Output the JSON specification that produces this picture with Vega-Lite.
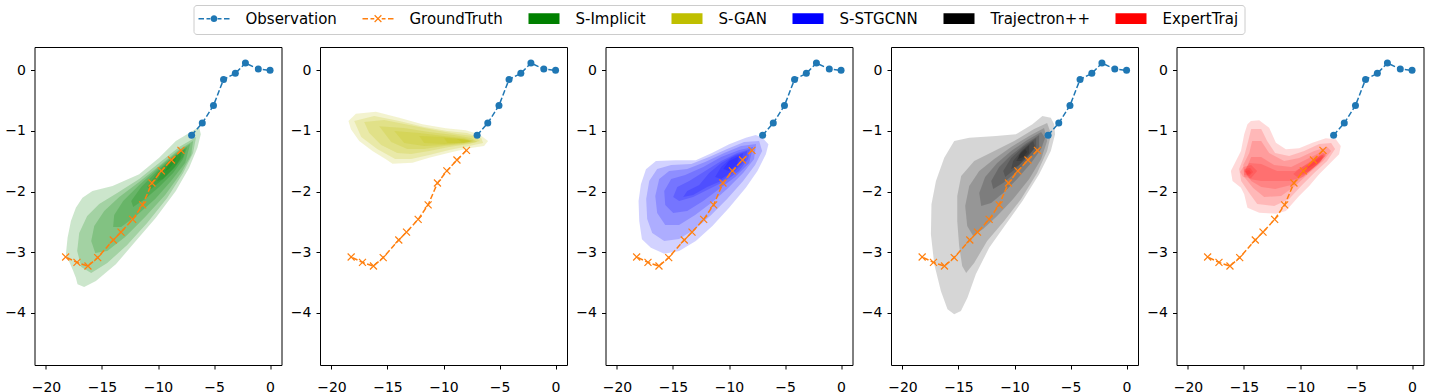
{
"$schema": "https://vega.github.io/schema/vega-lite/v6.json",
"padding": {"left": 3.5, "top": 4, "right": 0, "bottom": 0},
"data": {"values": [
{"p":1,"s":"S-Implicit","k":1,"x":-6.18,"y":-1.056},{"p":1,"s":"S-Implicit","k":1,"x":-6.33,"y":-0.936},{"p":1,"s":"S-Implicit","k":1,"x":-8.41,"y":-1.167},{"p":1,"s":"S-Implicit","k":1,"x":-9.90,"y":-1.442},{"p":1,"s":"S-Implicit","k":1,"x":-11.68,"y":-1.716},{"p":1,"s":"S-Implicit","k":1,"x":-14.06,"y":-1.909},{"p":1,"s":"S-Implicit","k":1,"x":-15.85,"y":-1.993},{"p":1,"s":"S-Implicit","k":1,"x":-16.74,"y":-2.102},{"p":1,"s":"S-Implicit","k":1,"x":-17.33,"y":-2.267},{"p":1,"s":"S-Implicit","k":1,"x":-17.77,"y":-2.487},{"p":1,"s":"S-Implicit","k":1,"x":-18.07,"y":-2.762},{"p":1,"s":"S-Implicit","k":1,"x":-18.22,"y":-3.036},{"p":1,"s":"S-Implicit","k":1,"x":-17.63,"y":-3.284},{"p":1,"s":"S-Implicit","k":1,"x":-17.33,"y":-3.422},{"p":1,"s":"S-Implicit","k":1,"x":-17.18,"y":-3.531},{"p":1,"s":"S-Implicit","k":1,"x":-16.59,"y":-3.576},{"p":1,"s":"S-Implicit","k":1,"x":-15.54,"y":-3.477},{"p":1,"s":"S-Implicit","k":1,"x":-13.76,"y":-3.201},{"p":1,"s":"S-Implicit","k":1,"x":-11.98,"y":-2.817},{"p":1,"s":"S-Implicit","k":1,"x":-10.19,"y":-2.432},{"p":1,"s":"S-Implicit","k":1,"x":-8.41,"y":-1.992},{"p":1,"s":"S-Implicit","k":1,"x":-7.22,"y":-1.607},{"p":1,"s":"S-Implicit","k":1,"x":-6.48,"y":-1.277},
{"p":1,"s":"S-Implicit","k":2,"x":-6.60,"y":-1.101},{"p":1,"s":"S-Implicit","k":2,"x":-8.11,"y":-1.266},{"p":1,"s":"S-Implicit","k":2,"x":-9.90,"y":-1.530},{"p":1,"s":"S-Implicit","k":2,"x":-11.68,"y":-1.794},{"p":1,"s":"S-Implicit","k":2,"x":-13.64,"y":-2.025},{"p":1,"s":"S-Implicit","k":2,"x":-15.25,"y":-2.206},{"p":1,"s":"S-Implicit","k":2,"x":-16.32,"y":-2.404},{"p":1,"s":"S-Implicit","k":2,"x":-17.03,"y":-2.685},{"p":1,"s":"S-Implicit","k":2,"x":-17.21,"y":-2.982},{"p":1,"s":"S-Implicit","k":2,"x":-16.85,"y":-3.246},{"p":1,"s":"S-Implicit","k":2,"x":-15.96,"y":-3.345},{"p":1,"s":"S-Implicit","k":2,"x":-14.53,"y":-3.180},{"p":1,"s":"S-Implicit","k":2,"x":-12.75,"y":-2.883},{"p":1,"s":"S-Implicit","k":2,"x":-10.97,"y":-2.520},{"p":1,"s":"S-Implicit","k":2,"x":-9.18,"y":-2.107},{"p":1,"s":"S-Implicit","k":2,"x":-7.76,"y":-1.695},{"p":1,"s":"S-Implicit","k":2,"x":-6.87,"y":-1.365},
{"p":1,"s":"S-Implicit","k":3,"x":-6.87,"y":-1.167},{"p":1,"s":"S-Implicit","k":3,"x":-8.29,"y":-1.332},{"p":1,"s":"S-Implicit","k":3,"x":-9.90,"y":-1.579},{"p":1,"s":"S-Implicit","k":3,"x":-11.68,"y":-1.843},{"p":1,"s":"S-Implicit","k":3,"x":-13.46,"y":-2.091},{"p":1,"s":"S-Implicit","k":3,"x":-14.80,"y":-2.322},{"p":1,"s":"S-Implicit","k":3,"x":-15.69,"y":-2.569},{"p":1,"s":"S-Implicit","k":3,"x":-15.96,"y":-2.817},{"p":1,"s":"S-Implicit","k":3,"x":-15.60,"y":-3.015},{"p":1,"s":"S-Implicit","k":3,"x":-14.53,"y":-2.982},{"p":1,"s":"S-Implicit","k":3,"x":-12.93,"y":-2.751},{"p":1,"s":"S-Implicit","k":3,"x":-11.15,"y":-2.421},{"p":1,"s":"S-Implicit","k":3,"x":-9.36,"y":-2.058},{"p":1,"s":"S-Implicit","k":3,"x":-7.94,"y":-1.695},{"p":1,"s":"S-Implicit","k":3,"x":-7.04,"y":-1.398},
{"p":1,"s":"S-Implicit","k":4,"x":-7.13,"y":-1.216},{"p":1,"s":"S-Implicit","k":4,"x":-8.47,"y":-1.381},{"p":1,"s":"S-Implicit","k":4,"x":-10.08,"y":-1.629},{"p":1,"s":"S-Implicit","k":4,"x":-11.68,"y":-1.893},{"p":1,"s":"S-Implicit","k":4,"x":-13.11,"y":-2.157},{"p":1,"s":"S-Implicit","k":4,"x":-13.91,"y":-2.388},{"p":1,"s":"S-Implicit","k":4,"x":-14.00,"y":-2.586},{"p":1,"s":"S-Implicit","k":4,"x":-13.29,"y":-2.586},{"p":1,"s":"S-Implicit","k":4,"x":-11.86,"y":-2.388},{"p":1,"s":"S-Implicit","k":4,"x":-10.25,"y":-2.124},{"p":1,"s":"S-Implicit","k":4,"x":-8.83,"y":-1.827},{"p":1,"s":"S-Implicit","k":4,"x":-7.58,"y":-1.530},
{"p":1,"s":"S-Implicit","k":5,"x":-7.40,"y":-1.266},{"p":1,"s":"S-Implicit","k":5,"x":-8.65,"y":-1.431},{"p":1,"s":"S-Implicit","k":5,"x":-10.08,"y":-1.662},{"p":1,"s":"S-Implicit","k":5,"x":-11.50,"y":-1.926},{"p":1,"s":"S-Implicit","k":5,"x":-12.39,"y":-2.157},{"p":1,"s":"S-Implicit","k":5,"x":-12.22,"y":-2.256},{"p":1,"s":"S-Implicit","k":5,"x":-11.15,"y":-2.124},{"p":1,"s":"S-Implicit","k":5,"x":-9.90,"y":-1.926},{"p":1,"s":"S-Implicit","k":5,"x":-8.65,"y":-1.695},{"p":1,"s":"S-Implicit","k":5,"x":-7.76,"y":-1.464},
{"p":1,"s":"S-Implicit","k":6,"x":-7.58,"y":-1.299},{"p":1,"s":"S-Implicit","k":6,"x":-8.83,"y":-1.464},{"p":1,"s":"S-Implicit","k":6,"x":-10.08,"y":-1.695},{"p":1,"s":"S-Implicit","k":6,"x":-10.97,"y":-1.926},{"p":1,"s":"S-Implicit","k":6,"x":-10.61,"y":-1.959},{"p":1,"s":"S-Implicit","k":6,"x":-9.54,"y":-1.794},{"p":1,"s":"S-Implicit","k":6,"x":-8.47,"y":-1.596},{"p":1,"s":"S-Implicit","k":6,"x":-7.76,"y":-1.431},
{"p":1,"s":"S-Implicit","k":7,"x":-7.85,"y":-1.332},{"p":1,"s":"S-Implicit","k":7,"x":-8.83,"y":-1.497},{"p":1,"s":"S-Implicit","k":7,"x":-9.72,"y":-1.695},{"p":1,"s":"S-Implicit","k":7,"x":-10.08,"y":-1.827},{"p":1,"s":"S-Implicit","k":7,"x":-9.54,"y":-1.794},{"p":1,"s":"S-Implicit","k":7,"x":-8.65,"y":-1.629},{"p":1,"s":"S-Implicit","k":7,"x":-8.02,"y":-1.464},
{"p":1,"s":"S-Implicit","k":8,"x":-8.29,"y":-1.398},{"p":1,"s":"S-Implicit","k":8,"x":-9.01,"y":-1.530},{"p":1,"s":"S-Implicit","k":8,"x":-9.36,"y":-1.662},{"p":1,"s":"S-Implicit","k":8,"x":-9.01,"y":-1.629},{"p":1,"s":"S-Implicit","k":8,"x":-8.47,"y":-1.497},
{"p":2,"s":"S-GAN","k":1,"x":-18.48,"y":-0.837},{"p":2,"s":"S-GAN","k":1,"x":-17.82,"y":-0.716},{"p":2,"s":"S-GAN","k":1,"x":-16.03,"y":-0.683},{"p":2,"s":"S-GAN","k":1,"x":-13.95,"y":-0.782},{"p":2,"s":"S-GAN","k":1,"x":-11.88,"y":-0.891},{"p":2,"s":"S-GAN","k":1,"x":-9.79,"y":-0.957},{"p":2,"s":"S-GAN","k":1,"x":-8.01,"y":-0.990},{"p":2,"s":"S-GAN","k":1,"x":-6.82,"y":-1.056},{"p":2,"s":"S-GAN","k":1,"x":-6.02,"y":-1.167},{"p":2,"s":"S-GAN","k":1,"x":-6.38,"y":-1.249},{"p":2,"s":"S-GAN","k":1,"x":-7.71,"y":-1.287},{"p":2,"s":"S-GAN","k":1,"x":-9.50,"y":-1.360},{"p":2,"s":"S-GAN","k":1,"x":-11.28,"y":-1.442},{"p":2,"s":"S-GAN","k":1,"x":-12.77,"y":-1.525},{"p":2,"s":"S-GAN","k":1,"x":-14.55,"y":-1.541},{"p":2,"s":"S-GAN","k":1,"x":-15.14,"y":-1.469},{"p":2,"s":"S-GAN","k":1,"x":-16.34,"y":-1.332},{"p":2,"s":"S-GAN","k":1,"x":-17.52,"y":-1.167},{"p":2,"s":"S-GAN","k":1,"x":-18.26,"y":-0.974},
{"p":2,"s":"S-GAN","k":2,"x":-17.97,"y":-0.837},{"p":2,"s":"S-GAN","k":2,"x":-16.18,"y":-0.755},{"p":2,"s":"S-GAN","k":2,"x":-13.95,"y":-0.837},{"p":2,"s":"S-GAN","k":2,"x":-11.73,"y":-0.936},{"p":2,"s":"S-GAN","k":2,"x":-9.67,"y":-1.002},{"p":2,"s":"S-GAN","k":2,"x":-7.89,"y":-1.035},{"p":2,"s":"S-GAN","k":2,"x":-6.64,"y":-1.117},{"p":2,"s":"S-GAN","k":2,"x":-6.46,"y":-1.200},{"p":2,"s":"S-GAN","k":2,"x":-7.71,"y":-1.249},{"p":2,"s":"S-GAN","k":2,"x":-9.50,"y":-1.315},{"p":2,"s":"S-GAN","k":2,"x":-11.28,"y":-1.398},{"p":2,"s":"S-GAN","k":2,"x":-12.88,"y":-1.464},{"p":2,"s":"S-GAN","k":2,"x":-14.31,"y":-1.464},{"p":2,"s":"S-GAN","k":2,"x":-15.92,"y":-1.299},{"p":2,"s":"S-GAN","k":2,"x":-17.34,"y":-1.101},
{"p":2,"s":"S-GAN","k":3,"x":-17.08,"y":-0.853},{"p":2,"s":"S-GAN","k":3,"x":-15.29,"y":-0.820},{"p":2,"s":"S-GAN","k":3,"x":-13.06,"y":-0.903},{"p":2,"s":"S-GAN","k":3,"x":-10.83,"y":-0.985},{"p":2,"s":"S-GAN","k":3,"x":-8.78,"y":-1.051},{"p":2,"s":"S-GAN","k":3,"x":-7.36,"y":-1.084},{"p":2,"s":"S-GAN","k":3,"x":-6.73,"y":-1.167},{"p":2,"s":"S-GAN","k":3,"x":-7.71,"y":-1.216},{"p":2,"s":"S-GAN","k":3,"x":-9.50,"y":-1.266},{"p":2,"s":"S-GAN","k":3,"x":-11.28,"y":-1.332},{"p":2,"s":"S-GAN","k":3,"x":-12.88,"y":-1.381},{"p":2,"s":"S-GAN","k":3,"x":-14.13,"y":-1.365},{"p":2,"s":"S-GAN","k":3,"x":-15.56,"y":-1.233},{"p":2,"s":"S-GAN","k":3,"x":-16.63,"y":-1.035},
{"p":2,"s":"S-GAN","k":4,"x":-15.74,"y":-0.921},{"p":2,"s":"S-GAN","k":4,"x":-13.51,"y":-0.952},{"p":2,"s":"S-GAN","k":4,"x":-11.28,"y":-1.018},{"p":2,"s":"S-GAN","k":4,"x":-9.05,"y":-1.068},{"p":2,"s":"S-GAN","k":4,"x":-7.53,"y":-1.117},{"p":2,"s":"S-GAN","k":4,"x":-7.00,"y":-1.183},{"p":2,"s":"S-GAN","k":4,"x":-8.16,"y":-1.216},{"p":2,"s":"S-GAN","k":4,"x":-9.94,"y":-1.249},{"p":2,"s":"S-GAN","k":4,"x":-11.73,"y":-1.299},{"p":2,"s":"S-GAN","k":4,"x":-13.24,"y":-1.299},{"p":2,"s":"S-GAN","k":4,"x":-14.67,"y":-1.183},
{"p":2,"s":"S-GAN","k":5,"x":-14.40,"y":-1.002},{"p":2,"s":"S-GAN","k":5,"x":-12.17,"y":-1.035},{"p":2,"s":"S-GAN","k":5,"x":-9.94,"y":-1.084},{"p":2,"s":"S-GAN","k":5,"x":-8.16,"y":-1.117},{"p":2,"s":"S-GAN","k":5,"x":-7.27,"y":-1.167},{"p":2,"s":"S-GAN","k":5,"x":-8.16,"y":-1.200},{"p":2,"s":"S-GAN","k":5,"x":-9.94,"y":-1.233},{"p":2,"s":"S-GAN","k":5,"x":-11.73,"y":-1.249},{"p":2,"s":"S-GAN","k":5,"x":-13.51,"y":-1.200},
{"p":2,"s":"S-GAN","k":6,"x":-12.17,"y":-1.084},{"p":2,"s":"S-GAN","k":6,"x":-9.94,"y":-1.101},{"p":2,"s":"S-GAN","k":6,"x":-8.16,"y":-1.134},{"p":2,"s":"S-GAN","k":6,"x":-7.36,"y":-1.167},{"p":2,"s":"S-GAN","k":6,"x":-8.16,"y":-1.200},{"p":2,"s":"S-GAN","k":6,"x":-9.94,"y":-1.216},{"p":2,"s":"S-GAN","k":6,"x":-11.73,"y":-1.200},
{"p":2,"s":"S-GAN","k":7,"x":-9.94,"y":-1.117},{"p":2,"s":"S-GAN","k":7,"x":-8.43,"y":-1.134},{"p":2,"s":"S-GAN","k":7,"x":-7.53,"y":-1.167},{"p":2,"s":"S-GAN","k":7,"x":-8.43,"y":-1.200},{"p":2,"s":"S-GAN","k":7,"x":-9.67,"y":-1.200},
{"p":2,"s":"S-GAN","k":8,"x":-8.78,"y":-1.134},{"p":2,"s":"S-GAN","k":8,"x":-7.89,"y":-1.150},{"p":2,"s":"S-GAN","k":8,"x":-7.53,"y":-1.183},{"p":2,"s":"S-GAN","k":8,"x":-8.25,"y":-1.200},
{"p":3,"s":"S-STGCNN","k":1,"x":-7.02,"y":-1.112},{"p":3,"s":"S-STGCNN","k":1,"x":-7.61,"y":-1.068},{"p":3,"s":"S-STGCNN","k":1,"x":-8.50,"y":-1.112},{"p":3,"s":"S-STGCNN","k":1,"x":-9.99,"y":-1.221},{"p":3,"s":"S-STGCNN","k":1,"x":-11.48,"y":-1.360},{"p":3,"s":"S-STGCNN","k":1,"x":-12.96,"y":-1.485},{"p":3,"s":"S-STGCNN","k":1,"x":-14.74,"y":-1.485},{"p":3,"s":"S-STGCNN","k":1,"x":-16.52,"y":-1.497},{"p":3,"s":"S-STGCNN","k":1,"x":-17.41,"y":-1.634},{"p":3,"s":"S-STGCNN","k":1,"x":-17.86,"y":-1.881},{"p":3,"s":"S-STGCNN","k":1,"x":-18.07,"y":-2.157},{"p":3,"s":"S-STGCNN","k":1,"x":-18.01,"y":-2.487},{"p":3,"s":"S-STGCNN","k":1,"x":-17.77,"y":-2.789},{"p":3,"s":"S-STGCNN","k":1,"x":-16.97,"y":-2.927},{"p":3,"s":"S-STGCNN","k":1,"x":-15.78,"y":-3.026},{"p":3,"s":"S-STGCNN","k":1,"x":-14.45,"y":-2.982},{"p":3,"s":"S-STGCNN","k":1,"x":-12.96,"y":-2.817},{"p":3,"s":"S-STGCNN","k":1,"x":-11.48,"y":-2.569},{"p":3,"s":"S-STGCNN","k":1,"x":-9.99,"y":-2.267},{"p":3,"s":"S-STGCNN","k":1,"x":-8.50,"y":-1.937},{"p":3,"s":"S-STGCNN","k":1,"x":-7.46,"y":-1.662},{"p":3,"s":"S-STGCNN","k":1,"x":-6.71,"y":-1.386},{"p":3,"s":"S-STGCNN","k":1,"x":-6.48,"y":-1.221},
{"p":3,"s":"S-STGCNN","k":2,"x":-7.31,"y":-1.167},{"p":3,"s":"S-STGCNN","k":2,"x":-8.65,"y":-1.183},{"p":3,"s":"S-STGCNN","k":2,"x":-10.17,"y":-1.299},{"p":3,"s":"S-STGCNN","k":2,"x":-11.77,"y":-1.431},{"p":3,"s":"S-STGCNN","k":2,"x":-13.37,"y":-1.546},{"p":3,"s":"S-STGCNN","k":2,"x":-15.16,"y":-1.563},{"p":3,"s":"S-STGCNN","k":2,"x":-16.41,"y":-1.629},{"p":3,"s":"S-STGCNN","k":2,"x":-17.12,"y":-1.827},{"p":3,"s":"S-STGCNN","k":2,"x":-17.39,"y":-2.124},{"p":3,"s":"S-STGCNN","k":2,"x":-17.30,"y":-2.454},{"p":3,"s":"S-STGCNN","k":2,"x":-16.85,"y":-2.685},{"p":3,"s":"S-STGCNN","k":2,"x":-15.78,"y":-2.817},{"p":3,"s":"S-STGCNN","k":2,"x":-14.45,"y":-2.784},{"p":3,"s":"S-STGCNN","k":2,"x":-13.02,"y":-2.619},{"p":3,"s":"S-STGCNN","k":2,"x":-11.59,"y":-2.388},{"p":3,"s":"S-STGCNN","k":2,"x":-10.17,"y":-2.124},{"p":3,"s":"S-STGCNN","k":2,"x":-8.74,"y":-1.827},{"p":3,"s":"S-STGCNN","k":2,"x":-7.67,"y":-1.563},{"p":3,"s":"S-STGCNN","k":2,"x":-7.04,"y":-1.332},
{"p":3,"s":"S-STGCNN","k":3,"x":-7.58,"y":-1.216},{"p":3,"s":"S-STGCNN","k":3,"x":-8.92,"y":-1.249},{"p":3,"s":"S-STGCNN","k":3,"x":-10.43,"y":-1.365},{"p":3,"s":"S-STGCNN","k":3,"x":-12.13,"y":-1.513},{"p":3,"s":"S-STGCNN","k":3,"x":-13.73,"y":-1.629},{"p":3,"s":"S-STGCNN","k":3,"x":-15.34,"y":-1.662},{"p":3,"s":"S-STGCNN","k":3,"x":-16.23,"y":-1.794},{"p":3,"s":"S-STGCNN","k":3,"x":-16.58,"y":-2.075},{"p":3,"s":"S-STGCNN","k":3,"x":-16.41,"y":-2.355},{"p":3,"s":"S-STGCNN","k":3,"x":-15.69,"y":-2.553},{"p":3,"s":"S-STGCNN","k":3,"x":-14.45,"y":-2.553},{"p":3,"s":"S-STGCNN","k":3,"x":-13.02,"y":-2.388},{"p":3,"s":"S-STGCNN","k":3,"x":-11.59,"y":-2.190},{"p":3,"s":"S-STGCNN","k":3,"x":-10.17,"y":-1.959},{"p":3,"s":"S-STGCNN","k":3,"x":-8.74,"y":-1.695},{"p":3,"s":"S-STGCNN","k":3,"x":-7.76,"y":-1.464},
{"p":3,"s":"S-STGCNN","k":4,"x":-7.85,"y":-1.266},{"p":3,"s":"S-STGCNN","k":4,"x":-9.09,"y":-1.315},{"p":3,"s":"S-STGCNN","k":4,"x":-10.70,"y":-1.431},{"p":3,"s":"S-STGCNN","k":4,"x":-12.30,"y":-1.596},{"p":3,"s":"S-STGCNN","k":4,"x":-13.91,"y":-1.728},{"p":3,"s":"S-STGCNN","k":4,"x":-15.16,"y":-1.794},{"p":3,"s":"S-STGCNN","k":4,"x":-15.78,"y":-1.992},{"p":3,"s":"S-STGCNN","k":4,"x":-15.69,"y":-2.223},{"p":3,"s":"S-STGCNN","k":4,"x":-14.98,"y":-2.355},{"p":3,"s":"S-STGCNN","k":4,"x":-13.73,"y":-2.322},{"p":3,"s":"S-STGCNN","k":4,"x":-12.30,"y":-2.157},{"p":3,"s":"S-STGCNN","k":4,"x":-10.88,"y":-1.959},{"p":3,"s":"S-STGCNN","k":4,"x":-9.45,"y":-1.761},{"p":3,"s":"S-STGCNN","k":4,"x":-8.20,"y":-1.530},
{"p":3,"s":"S-STGCNN","k":5,"x":-8.11,"y":-1.299},{"p":3,"s":"S-STGCNN","k":5,"x":-9.27,"y":-1.365},{"p":3,"s":"S-STGCNN","k":5,"x":-10.70,"y":-1.497},{"p":3,"s":"S-STGCNN","k":5,"x":-12.13,"y":-1.662},{"p":3,"s":"S-STGCNN","k":5,"x":-13.55,"y":-1.827},{"p":3,"s":"S-STGCNN","k":5,"x":-14.62,"y":-1.926},{"p":3,"s":"S-STGCNN","k":5,"x":-14.98,"y":-2.091},{"p":3,"s":"S-STGCNN","k":5,"x":-14.45,"y":-2.157},{"p":3,"s":"S-STGCNN","k":5,"x":-13.20,"y":-2.091},{"p":3,"s":"S-STGCNN","k":5,"x":-11.77,"y":-1.959},{"p":3,"s":"S-STGCNN","k":5,"x":-10.34,"y":-1.827},{"p":3,"s":"S-STGCNN","k":5,"x":-9.09,"y":-1.662},{"p":3,"s":"S-STGCNN","k":5,"x":-8.29,"y":-1.464},
{"p":3,"s":"S-STGCNN","k":6,"x":-8.38,"y":-1.332},{"p":3,"s":"S-STGCNN","k":6,"x":-9.45,"y":-1.398},{"p":3,"s":"S-STGCNN","k":6,"x":-10.70,"y":-1.530},{"p":3,"s":"S-STGCNN","k":6,"x":-11.77,"y":-1.695},{"p":3,"s":"S-STGCNN","k":6,"x":-12.66,"y":-1.893},{"p":3,"s":"S-STGCNN","k":6,"x":-13.73,"y":-1.992},{"p":3,"s":"S-STGCNN","k":6,"x":-14.09,"y":-2.091},{"p":3,"s":"S-STGCNN","k":6,"x":-13.20,"y":-2.058},{"p":3,"s":"S-STGCNN","k":6,"x":-11.95,"y":-1.926},{"p":3,"s":"S-STGCNN","k":6,"x":-10.70,"y":-1.827},{"p":3,"s":"S-STGCNN","k":6,"x":-9.45,"y":-1.662},{"p":3,"s":"S-STGCNN","k":6,"x":-8.56,"y":-1.497},
{"p":3,"s":"S-STGCNN","k":7,"x":-8.74,"y":-1.365},{"p":3,"s":"S-STGCNN","k":7,"x":-9.81,"y":-1.447},{"p":3,"s":"S-STGCNN","k":7,"x":-10.70,"y":-1.596},{"p":3,"s":"S-STGCNN","k":7,"x":-11.24,"y":-1.761},{"p":3,"s":"S-STGCNN","k":7,"x":-10.70,"y":-1.794},{"p":3,"s":"S-STGCNN","k":7,"x":-9.63,"y":-1.662},{"p":3,"s":"S-STGCNN","k":7,"x":-8.92,"y":-1.530},
{"p":3,"s":"S-STGCNN","k":8,"x":-9.09,"y":-1.414},{"p":3,"s":"S-STGCNN","k":8,"x":-9.99,"y":-1.497},{"p":3,"s":"S-STGCNN","k":8,"x":-10.52,"y":-1.629},{"p":3,"s":"S-STGCNN","k":8,"x":-9.99,"y":-1.662},{"p":3,"s":"S-STGCNN","k":8,"x":-9.27,"y":-1.546},
{"p":4,"s":"Trajectron++","k":1,"x":-6.76,"y":-0.782},{"p":4,"s":"Trajectron++","k":1,"x":-7.51,"y":-0.754},{"p":4,"s":"Trajectron++","k":1,"x":-8.40,"y":-0.891},{"p":4,"s":"Trajectron++","k":1,"x":-9.88,"y":-1.056},{"p":4,"s":"Trajectron++","k":1,"x":-11.66,"y":-1.084},{"p":4,"s":"Trajectron++","k":1,"x":-14.04,"y":-1.112},{"p":4,"s":"Trajectron++","k":1,"x":-15.38,"y":-1.167},{"p":4,"s":"Trajectron++","k":1,"x":-16.27,"y":-1.442},{"p":4,"s":"Trajectron++","k":1,"x":-17.01,"y":-1.827},{"p":4,"s":"Trajectron++","k":1,"x":-17.41,"y":-2.211},{"p":4,"s":"Trajectron++","k":1,"x":-17.46,"y":-2.706},{"p":4,"s":"Trajectron++","k":1,"x":-17.16,"y":-3.201},{"p":4,"s":"Trajectron++","k":1,"x":-16.57,"y":-3.642},{"p":4,"s":"Trajectron++","k":1,"x":-15.98,"y":-3.944},{"p":4,"s":"Trajectron++","k":1,"x":-15.38,"y":-4.026},{"p":4,"s":"Trajectron++","k":1,"x":-14.78,"y":-3.972},{"p":4,"s":"Trajectron++","k":1,"x":-14.20,"y":-3.752},{"p":4,"s":"Trajectron++","k":1,"x":-13.45,"y":-3.366},{"p":4,"s":"Trajectron++","k":1,"x":-12.26,"y":-2.927},{"p":4,"s":"Trajectron++","k":1,"x":-10.77,"y":-2.541},{"p":4,"s":"Trajectron++","k":1,"x":-9.29,"y":-2.157},{"p":4,"s":"Trajectron++","k":1,"x":-7.80,"y":-1.716},{"p":4,"s":"Trajectron++","k":1,"x":-6.76,"y":-1.332},{"p":4,"s":"Trajectron++","k":1,"x":-6.38,"y":-1.056},{"p":4,"s":"Trajectron++","k":1,"x":-6.46,"y":-0.891},
{"p":4,"s":"Trajectron++","k":2,"x":-7.09,"y":-0.870},{"p":4,"s":"Trajectron++","k":2,"x":-8.25,"y":-0.969},{"p":4,"s":"Trajectron++","k":2,"x":-10.03,"y":-1.167},{"p":4,"s":"Trajectron++","k":2,"x":-11.81,"y":-1.332},{"p":4,"s":"Trajectron++","k":2,"x":-13.60,"y":-1.497},{"p":4,"s":"Trajectron++","k":2,"x":-14.76,"y":-1.744},{"p":4,"s":"Trajectron++","k":2,"x":-15.11,"y":-2.075},{"p":4,"s":"Trajectron++","k":2,"x":-15.11,"y":-2.487},{"p":4,"s":"Trajectron++","k":2,"x":-14.94,"y":-2.899},{"p":4,"s":"Trajectron++","k":2,"x":-14.67,"y":-3.229},{"p":4,"s":"Trajectron++","k":2,"x":-14.31,"y":-3.345},{"p":4,"s":"Trajectron++","k":2,"x":-13.60,"y":-3.180},{"p":4,"s":"Trajectron++","k":2,"x":-12.44,"y":-2.817},{"p":4,"s":"Trajectron++","k":2,"x":-10.92,"y":-2.487},{"p":4,"s":"Trajectron++","k":2,"x":-9.41,"y":-2.124},{"p":4,"s":"Trajectron++","k":2,"x":-7.98,"y":-1.695},{"p":4,"s":"Trajectron++","k":2,"x":-7.09,"y":-1.332},{"p":4,"s":"Trajectron++","k":2,"x":-6.73,"y":-1.051},
{"p":4,"s":"Trajectron++","k":3,"x":-7.36,"y":-0.952},{"p":4,"s":"Trajectron++","k":3,"x":-8.69,"y":-1.084},{"p":4,"s":"Trajectron++","k":3,"x":-10.30,"y":-1.266},{"p":4,"s":"Trajectron++","k":3,"x":-11.81,"y":-1.464},{"p":4,"s":"Trajectron++","k":3,"x":-13.15,"y":-1.662},{"p":4,"s":"Trajectron++","k":3,"x":-14.04,"y":-1.909},{"p":4,"s":"Trajectron++","k":3,"x":-14.40,"y":-2.239},{"p":4,"s":"Trajectron++","k":3,"x":-14.22,"y":-2.569},{"p":4,"s":"Trajectron++","k":3,"x":-13.69,"y":-2.734},{"p":4,"s":"Trajectron++","k":3,"x":-12.80,"y":-2.619},{"p":4,"s":"Trajectron++","k":3,"x":-11.55,"y":-2.404},{"p":4,"s":"Trajectron++","k":3,"x":-10.12,"y":-2.124},{"p":4,"s":"Trajectron++","k":3,"x":-8.69,"y":-1.794},{"p":4,"s":"Trajectron++","k":3,"x":-7.62,"y":-1.464},{"p":4,"s":"Trajectron++","k":3,"x":-7.09,"y":-1.167},
{"p":4,"s":"Trajectron++","k":4,"x":-7.62,"y":-1.018},{"p":4,"s":"Trajectron++","k":4,"x":-8.87,"y":-1.150},{"p":4,"s":"Trajectron++","k":4,"x":-10.30,"y":-1.332},{"p":4,"s":"Trajectron++","k":4,"x":-11.55,"y":-1.530},{"p":4,"s":"Trajectron++","k":4,"x":-12.62,"y":-1.761},{"p":4,"s":"Trajectron++","k":4,"x":-13.15,"y":-2.025},{"p":4,"s":"Trajectron++","k":4,"x":-12.97,"y":-2.239},{"p":4,"s":"Trajectron++","k":4,"x":-12.08,"y":-2.190},{"p":4,"s":"Trajectron++","k":4,"x":-11.01,"y":-2.025},{"p":4,"s":"Trajectron++","k":4,"x":-9.76,"y":-1.794},{"p":4,"s":"Trajectron++","k":4,"x":-8.52,"y":-1.530},{"p":4,"s":"Trajectron++","k":4,"x":-7.62,"y":-1.299},{"p":4,"s":"Trajectron++","k":4,"x":-7.27,"y":-1.117},
{"p":4,"s":"Trajectron++","k":5,"x":-7.80,"y":-1.068},{"p":4,"s":"Trajectron++","k":5,"x":-9.05,"y":-1.216},{"p":4,"s":"Trajectron++","k":5,"x":-10.30,"y":-1.398},{"p":4,"s":"Trajectron++","k":5,"x":-11.37,"y":-1.596},{"p":4,"s":"Trajectron++","k":5,"x":-12.08,"y":-1.827},{"p":4,"s":"Trajectron++","k":5,"x":-11.90,"y":-1.959},{"p":4,"s":"Trajectron++","k":5,"x":-11.01,"y":-1.860},{"p":4,"s":"Trajectron++","k":5,"x":-9.94,"y":-1.695},{"p":4,"s":"Trajectron++","k":5,"x":-8.69,"y":-1.464},{"p":4,"s":"Trajectron++","k":5,"x":-7.80,"y":-1.266},
{"p":4,"s":"Trajectron++","k":6,"x":-8.07,"y":-1.117},{"p":4,"s":"Trajectron++","k":6,"x":-9.23,"y":-1.266},{"p":4,"s":"Trajectron++","k":6,"x":-10.30,"y":-1.447},{"p":4,"s":"Trajectron++","k":6,"x":-11.01,"y":-1.662},{"p":4,"s":"Trajectron++","k":6,"x":-10.83,"y":-1.761},{"p":4,"s":"Trajectron++","k":6,"x":-9.94,"y":-1.629},{"p":4,"s":"Trajectron++","k":6,"x":-8.87,"y":-1.431},{"p":4,"s":"Trajectron++","k":6,"x":-8.07,"y":-1.266},
{"p":4,"s":"Trajectron++","k":7,"x":-8.34,"y":-1.167},{"p":4,"s":"Trajectron++","k":7,"x":-9.32,"y":-1.315},{"p":4,"s":"Trajectron++","k":7,"x":-10.12,"y":-1.497},{"p":4,"s":"Trajectron++","k":7,"x":-10.30,"y":-1.629},{"p":4,"s":"Trajectron++","k":7,"x":-9.59,"y":-1.563},{"p":4,"s":"Trajectron++","k":7,"x":-8.69,"y":-1.398},{"p":4,"s":"Trajectron++","k":7,"x":-8.16,"y":-1.266},
{"p":4,"s":"Trajectron++","k":8,"x":-8.69,"y":-1.233},{"p":4,"s":"Trajectron++","k":8,"x":-9.41,"y":-1.348},{"p":4,"s":"Trajectron++","k":8,"x":-9.85,"y":-1.497},{"p":4,"s":"Trajectron++","k":8,"x":-9.41,"y":-1.497},{"p":4,"s":"Trajectron++","k":8,"x":-8.69,"y":-1.365},
{"p":4,"s":"Trajectron++","k":9,"x":-9.05,"y":-1.299},{"p":4,"s":"Trajectron++","k":9,"x":-9.59,"y":-1.398},{"p":4,"s":"Trajectron++","k":9,"x":-9.67,"y":-1.464},{"p":4,"s":"Trajectron++","k":9,"x":-9.23,"y":-1.431},{"p":4,"s":"Trajectron++","k":9,"x":-8.87,"y":-1.348},
{"p":5,"s":"ExpertTraj","k":1,"x":-14.38,"y":-0.837},{"p":5,"s":"ExpertTraj","k":1,"x":-13.64,"y":-0.825},{"p":5,"s":"ExpertTraj","k":1,"x":-12.75,"y":-0.947},{"p":5,"s":"ExpertTraj","k":1,"x":-12.15,"y":-1.195},{"p":5,"s":"ExpertTraj","k":1,"x":-11.26,"y":-1.304},{"p":5,"s":"ExpertTraj","k":1,"x":-10.08,"y":-1.287},{"p":5,"s":"ExpertTraj","k":1,"x":-8.89,"y":-1.195},{"p":5,"s":"ExpertTraj","k":1,"x":-7.70,"y":-1.122},{"p":5,"s":"ExpertTraj","k":1,"x":-6.80,"y":-1.139},{"p":5,"s":"ExpertTraj","k":1,"x":-6.36,"y":-1.249},{"p":5,"s":"ExpertTraj","k":1,"x":-6.51,"y":-1.386},{"p":5,"s":"ExpertTraj","k":1,"x":-7.40,"y":-1.551},{"p":5,"s":"ExpertTraj","k":1,"x":-8.29,"y":-1.716},{"p":5,"s":"ExpertTraj","k":1,"x":-9.18,"y":-1.909},{"p":5,"s":"ExpertTraj","k":1,"x":-10.08,"y":-2.074},{"p":5,"s":"ExpertTraj","k":1,"x":-11.26,"y":-2.322},{"p":5,"s":"ExpertTraj","k":1,"x":-12.15,"y":-2.366},{"p":5,"s":"ExpertTraj","k":1,"x":-13.64,"y":-2.350},{"p":5,"s":"ExpertTraj","k":1,"x":-14.69,"y":-2.267},{"p":5,"s":"ExpertTraj","k":1,"x":-14.98,"y":-2.046},{"p":5,"s":"ExpertTraj","k":1,"x":-15.27,"y":-1.937},{"p":5,"s":"ExpertTraj","k":1,"x":-16.02,"y":-1.827},{"p":5,"s":"ExpertTraj","k":1,"x":-16.17,"y":-1.662},{"p":5,"s":"ExpertTraj","k":1,"x":-15.72,"y":-1.497},{"p":5,"s":"ExpertTraj","k":1,"x":-15.27,"y":-1.332},{"p":5,"s":"ExpertTraj","k":1,"x":-14.98,"y":-1.056},{"p":5,"s":"ExpertTraj","k":1,"x":-14.69,"y":-0.891},
{"p":5,"s":"ExpertTraj","k":2,"x":-14.36,"y":-0.969},{"p":5,"s":"ExpertTraj","k":2,"x":-13.46,"y":-0.969},{"p":5,"s":"ExpertTraj","k":2,"x":-12.93,"y":-1.167},{"p":5,"s":"ExpertTraj","k":2,"x":-12.22,"y":-1.365},{"p":5,"s":"ExpertTraj","k":2,"x":-10.97,"y":-1.414},{"p":5,"s":"ExpertTraj","k":2,"x":-9.63,"y":-1.332},{"p":5,"s":"ExpertTraj","k":2,"x":-8.29,"y":-1.216},{"p":5,"s":"ExpertTraj","k":2,"x":-7.22,"y":-1.200},{"p":5,"s":"ExpertTraj","k":2,"x":-6.87,"y":-1.299},{"p":5,"s":"ExpertTraj","k":2,"x":-7.58,"y":-1.497},{"p":5,"s":"ExpertTraj","k":2,"x":-8.74,"y":-1.695},{"p":5,"s":"ExpertTraj","k":2,"x":-9.90,"y":-1.909},{"p":5,"s":"ExpertTraj","k":2,"x":-10.97,"y":-2.124},{"p":5,"s":"ExpertTraj","k":2,"x":-12.30,"y":-2.239},{"p":5,"s":"ExpertTraj","k":2,"x":-13.82,"y":-2.206},{"p":5,"s":"ExpertTraj","k":2,"x":-14.53,"y":-2.025},{"p":5,"s":"ExpertTraj","k":2,"x":-15.25,"y":-1.827},{"p":5,"s":"ExpertTraj","k":2,"x":-15.43,"y":-1.629},{"p":5,"s":"ExpertTraj","k":2,"x":-14.98,"y":-1.414},{"p":5,"s":"ExpertTraj","k":2,"x":-14.62,"y":-1.167},
{"p":5,"s":"ExpertTraj","k":3,"x":-14.27,"y":-1.167},{"p":5,"s":"ExpertTraj","k":3,"x":-13.46,"y":-1.167},{"p":5,"s":"ExpertTraj","k":3,"x":-12.75,"y":-1.365},{"p":5,"s":"ExpertTraj","k":3,"x":-11.41,"y":-1.497},{"p":5,"s":"ExpertTraj","k":3,"x":-10.08,"y":-1.447},{"p":5,"s":"ExpertTraj","k":3,"x":-8.74,"y":-1.332},{"p":5,"s":"ExpertTraj","k":3,"x":-7.58,"y":-1.266},{"p":5,"s":"ExpertTraj","k":3,"x":-7.22,"y":-1.332},{"p":5,"s":"ExpertTraj","k":3,"x":-7.94,"y":-1.497},{"p":5,"s":"ExpertTraj","k":3,"x":-9.18,"y":-1.695},{"p":5,"s":"ExpertTraj","k":3,"x":-10.43,"y":-1.909},{"p":5,"s":"ExpertTraj","k":3,"x":-11.68,"y":-2.074},{"p":5,"s":"ExpertTraj","k":3,"x":-13.20,"y":-2.091},{"p":5,"s":"ExpertTraj","k":3,"x":-14.18,"y":-1.942},{"p":5,"s":"ExpertTraj","k":3,"x":-14.98,"y":-1.761},{"p":5,"s":"ExpertTraj","k":3,"x":-15.07,"y":-1.563},{"p":5,"s":"ExpertTraj","k":3,"x":-14.53,"y":-1.365},
{"p":5,"s":"ExpertTraj","k":4,"x":-14.36,"y":-1.431},{"p":5,"s":"ExpertTraj","k":4,"x":-13.46,"y":-1.431},{"p":5,"s":"ExpertTraj","k":4,"x":-12.30,"y":-1.563},{"p":5,"s":"ExpertTraj","k":4,"x":-10.79,"y":-1.596},{"p":5,"s":"ExpertTraj","k":4,"x":-9.36,"y":-1.464},{"p":5,"s":"ExpertTraj","k":4,"x":-8.11,"y":-1.348},{"p":5,"s":"ExpertTraj","k":4,"x":-7.58,"y":-1.365},{"p":5,"s":"ExpertTraj","k":4,"x":-8.29,"y":-1.530},{"p":5,"s":"ExpertTraj","k":4,"x":-9.54,"y":-1.728},{"p":5,"s":"ExpertTraj","k":4,"x":-10.79,"y":-1.893},{"p":5,"s":"ExpertTraj","k":4,"x":-12.22,"y":-1.959},{"p":5,"s":"ExpertTraj","k":4,"x":-13.46,"y":-1.926},{"p":5,"s":"ExpertTraj","k":4,"x":-14.36,"y":-1.827},{"p":5,"s":"ExpertTraj","k":4,"x":-14.89,"y":-1.662},
{"p":5,"s":"ExpertTraj","k":5,"x":-14.53,"y":-1.530},{"p":5,"s":"ExpertTraj","k":5,"x":-13.46,"y":-1.546},{"p":5,"s":"ExpertTraj","k":5,"x":-12.04,"y":-1.662},{"p":5,"s":"ExpertTraj","k":5,"x":-10.43,"y":-1.662},{"p":5,"s":"ExpertTraj","k":5,"x":-9.18,"y":-1.530},{"p":5,"s":"ExpertTraj","k":5,"x":-8.11,"y":-1.398},{"p":5,"s":"ExpertTraj","k":5,"x":-7.76,"y":-1.414},{"p":5,"s":"ExpertTraj","k":5,"x":-8.47,"y":-1.563},{"p":5,"s":"ExpertTraj","k":5,"x":-9.72,"y":-1.761},{"p":5,"s":"ExpertTraj","k":5,"x":-10.97,"y":-1.827},{"p":5,"s":"ExpertTraj","k":5,"x":-12.22,"y":-1.827},{"p":5,"s":"ExpertTraj","k":5,"x":-13.46,"y":-1.827},{"p":5,"s":"ExpertTraj","k":5,"x":-14.53,"y":-1.794},{"p":5,"s":"ExpertTraj","k":5,"x":-14.98,"y":-1.662},
{"p":5,"s":"ExpertTraj","k":6,"x":-15.07,"y":-1.596},{"p":5,"s":"ExpertTraj","k":6,"x":-14.36,"y":-1.563},{"p":5,"s":"ExpertTraj","k":6,"x":-13.82,"y":-1.662},{"p":5,"s":"ExpertTraj","k":6,"x":-14.36,"y":-1.777},{"p":5,"s":"ExpertTraj","k":6,"x":-15.07,"y":-1.761},{"p":5,"s":"ExpertTraj","k":6,"x":-15.34,"y":-1.678},
{"p":5,"s":"ExpertTraj","k":16,"x":-10.08,"y":-1.629},{"p":5,"s":"ExpertTraj","k":16,"x":-9.01,"y":-1.497},{"p":5,"s":"ExpertTraj","k":16,"x":-7.94,"y":-1.365},{"p":5,"s":"ExpertTraj","k":16,"x":-7.67,"y":-1.398},{"p":5,"s":"ExpertTraj","k":16,"x":-8.29,"y":-1.530},{"p":5,"s":"ExpertTraj","k":16,"x":-9.36,"y":-1.695},{"p":5,"s":"ExpertTraj","k":16,"x":-10.25,"y":-1.761},{"p":5,"s":"ExpertTraj","k":16,"x":-10.61,"y":-1.711},
{"p":5,"s":"ExpertTraj","k":7,"x":-14.98,"y":-1.629},{"p":5,"s":"ExpertTraj","k":7,"x":-14.44,"y":-1.612},{"p":5,"s":"ExpertTraj","k":7,"x":-14.18,"y":-1.678},{"p":5,"s":"ExpertTraj","k":7,"x":-14.53,"y":-1.744},{"p":5,"s":"ExpertTraj","k":7,"x":-14.98,"y":-1.728},
{"p":5,"s":"ExpertTraj","k":17,"x":-9.72,"y":-1.629},{"p":5,"s":"ExpertTraj","k":17,"x":-8.65,"y":-1.464},{"p":5,"s":"ExpertTraj","k":17,"x":-7.85,"y":-1.381},{"p":5,"s":"ExpertTraj","k":17,"x":-8.11,"y":-1.497},{"p":5,"s":"ExpertTraj","k":17,"x":-9.18,"y":-1.662},{"p":5,"s":"ExpertTraj","k":17,"x":-9.90,"y":-1.711},
{"p":5,"s":"ExpertTraj","k":8,"x":-14.89,"y":-1.662},{"p":5,"s":"ExpertTraj","k":8,"x":-14.53,"y":-1.645},{"p":5,"s":"ExpertTraj","k":8,"x":-14.36,"y":-1.695},{"p":5,"s":"ExpertTraj","k":8,"x":-14.71,"y":-1.728},
{"p":5,"s":"ExpertTraj","k":18,"x":-9.18,"y":-1.563},{"p":5,"s":"ExpertTraj","k":18,"x":-8.29,"y":-1.447},{"p":5,"s":"ExpertTraj","k":18,"x":-7.94,"y":-1.431},{"p":5,"s":"ExpertTraj","k":18,"x":-8.47,"y":-1.530},{"p":5,"s":"ExpertTraj","k":18,"x":-9.36,"y":-1.629},
{"p":1,"s":"Observation","k":0,"x":-7.0,"y":-1.07},{"p":1,"s":"Observation","k":0,"x":-6.05,"y":-0.87},{"p":1,"s":"Observation","k":0,"x":-5.05,"y":-0.58},{"p":1,"s":"Observation","k":0,"x":-4.15,"y":-0.15},{"p":1,"s":"Observation","k":0,"x":-3.1,"y":-0.05},{"p":1,"s":"Observation","k":0,"x":-2.2,"y":0.12},{"p":1,"s":"Observation","k":0,"x":-1.05,"y":0.02},{"p":1,"s":"Observation","k":0,"x":0,"y":0},
{"p":2,"s":"Observation","k":0,"x":-7.0,"y":-1.07},{"p":2,"s":"Observation","k":0,"x":-6.05,"y":-0.87},{"p":2,"s":"Observation","k":0,"x":-5.05,"y":-0.58},{"p":2,"s":"Observation","k":0,"x":-4.15,"y":-0.15},{"p":2,"s":"Observation","k":0,"x":-3.1,"y":-0.05},{"p":2,"s":"Observation","k":0,"x":-2.2,"y":0.12},{"p":2,"s":"Observation","k":0,"x":-1.05,"y":0.02},{"p":2,"s":"Observation","k":0,"x":0,"y":0},
{"p":3,"s":"Observation","k":0,"x":-7.0,"y":-1.07},{"p":3,"s":"Observation","k":0,"x":-6.05,"y":-0.87},{"p":3,"s":"Observation","k":0,"x":-5.05,"y":-0.58},{"p":3,"s":"Observation","k":0,"x":-4.15,"y":-0.15},{"p":3,"s":"Observation","k":0,"x":-3.1,"y":-0.05},{"p":3,"s":"Observation","k":0,"x":-2.2,"y":0.12},{"p":3,"s":"Observation","k":0,"x":-1.05,"y":0.02},{"p":3,"s":"Observation","k":0,"x":0,"y":0},
{"p":4,"s":"Observation","k":0,"x":-7.0,"y":-1.07},{"p":4,"s":"Observation","k":0,"x":-6.05,"y":-0.87},{"p":4,"s":"Observation","k":0,"x":-5.05,"y":-0.58},{"p":4,"s":"Observation","k":0,"x":-4.15,"y":-0.15},{"p":4,"s":"Observation","k":0,"x":-3.1,"y":-0.05},{"p":4,"s":"Observation","k":0,"x":-2.2,"y":0.12},{"p":4,"s":"Observation","k":0,"x":-1.05,"y":0.02},{"p":4,"s":"Observation","k":0,"x":0,"y":0},
{"p":5,"s":"Observation","k":0,"x":-7.0,"y":-1.07},{"p":5,"s":"Observation","k":0,"x":-6.05,"y":-0.87},{"p":5,"s":"Observation","k":0,"x":-5.05,"y":-0.58},{"p":5,"s":"Observation","k":0,"x":-4.15,"y":-0.15},{"p":5,"s":"Observation","k":0,"x":-3.1,"y":-0.05},{"p":5,"s":"Observation","k":0,"x":-2.2,"y":0.12},{"p":5,"s":"Observation","k":0,"x":-1.05,"y":0.02},{"p":5,"s":"Observation","k":0,"x":0,"y":0},
{"p":1,"s":"GroundTruth","k":0,"x":-7.95,"y":-1.32},{"p":1,"s":"GroundTruth","k":0,"x":-8.8,"y":-1.48},{"p":1,"s":"GroundTruth","k":0,"x":-9.7,"y":-1.66},{"p":1,"s":"GroundTruth","k":0,"x":-10.54,"y":-1.86},{"p":1,"s":"GroundTruth","k":0,"x":-11.37,"y":-2.22},{"p":1,"s":"GroundTruth","k":0,"x":-12.26,"y":-2.46},{"p":1,"s":"GroundTruth","k":0,"x":-13.3,"y":-2.67},{"p":1,"s":"GroundTruth","k":0,"x":-13.99,"y":-2.8},{"p":1,"s":"GroundTruth","k":0,"x":-15.38,"y":-3.09},{"p":1,"s":"GroundTruth","k":0,"x":-16.25,"y":-3.23},{"p":1,"s":"GroundTruth","k":0,"x":-17.23,"y":-3.17},{"p":1,"s":"GroundTruth","k":0,"x":-18.24,"y":-3.08},
{"p":2,"s":"GroundTruth","k":0,"x":-7.95,"y":-1.32},{"p":2,"s":"GroundTruth","k":0,"x":-8.8,"y":-1.48},{"p":2,"s":"GroundTruth","k":0,"x":-9.7,"y":-1.66},{"p":2,"s":"GroundTruth","k":0,"x":-10.54,"y":-1.86},{"p":2,"s":"GroundTruth","k":0,"x":-11.37,"y":-2.22},{"p":2,"s":"GroundTruth","k":0,"x":-12.26,"y":-2.46},{"p":2,"s":"GroundTruth","k":0,"x":-13.3,"y":-2.67},{"p":2,"s":"GroundTruth","k":0,"x":-13.99,"y":-2.8},{"p":2,"s":"GroundTruth","k":0,"x":-15.38,"y":-3.09},{"p":2,"s":"GroundTruth","k":0,"x":-16.25,"y":-3.23},{"p":2,"s":"GroundTruth","k":0,"x":-17.23,"y":-3.17},{"p":2,"s":"GroundTruth","k":0,"x":-18.24,"y":-3.08},
{"p":3,"s":"GroundTruth","k":0,"x":-7.95,"y":-1.32},{"p":3,"s":"GroundTruth","k":0,"x":-8.8,"y":-1.48},{"p":3,"s":"GroundTruth","k":0,"x":-9.7,"y":-1.66},{"p":3,"s":"GroundTruth","k":0,"x":-10.54,"y":-1.86},{"p":3,"s":"GroundTruth","k":0,"x":-11.37,"y":-2.22},{"p":3,"s":"GroundTruth","k":0,"x":-12.26,"y":-2.46},{"p":3,"s":"GroundTruth","k":0,"x":-13.3,"y":-2.67},{"p":3,"s":"GroundTruth","k":0,"x":-13.99,"y":-2.8},{"p":3,"s":"GroundTruth","k":0,"x":-15.38,"y":-3.09},{"p":3,"s":"GroundTruth","k":0,"x":-16.25,"y":-3.23},{"p":3,"s":"GroundTruth","k":0,"x":-17.23,"y":-3.17},{"p":3,"s":"GroundTruth","k":0,"x":-18.24,"y":-3.08},
{"p":4,"s":"GroundTruth","k":0,"x":-7.95,"y":-1.32},{"p":4,"s":"GroundTruth","k":0,"x":-8.8,"y":-1.48},{"p":4,"s":"GroundTruth","k":0,"x":-9.7,"y":-1.66},{"p":4,"s":"GroundTruth","k":0,"x":-10.54,"y":-1.86},{"p":4,"s":"GroundTruth","k":0,"x":-11.37,"y":-2.22},{"p":4,"s":"GroundTruth","k":0,"x":-12.26,"y":-2.46},{"p":4,"s":"GroundTruth","k":0,"x":-13.3,"y":-2.67},{"p":4,"s":"GroundTruth","k":0,"x":-13.99,"y":-2.8},{"p":4,"s":"GroundTruth","k":0,"x":-15.38,"y":-3.09},{"p":4,"s":"GroundTruth","k":0,"x":-16.25,"y":-3.23},{"p":4,"s":"GroundTruth","k":0,"x":-17.23,"y":-3.17},{"p":4,"s":"GroundTruth","k":0,"x":-18.24,"y":-3.08},
{"p":5,"s":"GroundTruth","k":0,"x":-7.95,"y":-1.32},{"p":5,"s":"GroundTruth","k":0,"x":-8.8,"y":-1.48},{"p":5,"s":"GroundTruth","k":0,"x":-9.7,"y":-1.66},{"p":5,"s":"GroundTruth","k":0,"x":-10.54,"y":-1.86},{"p":5,"s":"GroundTruth","k":0,"x":-11.37,"y":-2.22},{"p":5,"s":"GroundTruth","k":0,"x":-12.26,"y":-2.46},{"p":5,"s":"GroundTruth","k":0,"x":-13.3,"y":-2.67},{"p":5,"s":"GroundTruth","k":0,"x":-13.99,"y":-2.8},{"p":5,"s":"GroundTruth","k":0,"x":-15.38,"y":-3.09},{"p":5,"s":"GroundTruth","k":0,"x":-16.25,"y":-3.23},{"p":5,"s":"GroundTruth","k":0,"x":-17.23,"y":-3.17},{"p":5,"s":"GroundTruth","k":0,"x":-18.24,"y":-3.08}
]},
"facet": {"column": {"field": "p", "type": "ordinal", "header": null}},
"spacing": 38.5,
"bounds": "flush",
"resolve": {"axis": {"y": "independent"}},
"spec": {
  "width": 247,
  "height": 318,
  "encoding": {
    "x": {"field": "x", "type": "quantitative", "scale": {"domain": [-21.02, 1.02], "nice": false, "zero": false}, "axis": {"title": null, "values": [-20, -15, -10, -5, 0], "labelPadding": 11}},
    "y": {"field": "y", "type": "quantitative", "scale": {"domain": [-4.863, 0.385], "nice": false, "zero": false}, "axis": {"title": null, "values": [-4, -3, -2, -1, 0], "labelPadding": 5}}
  },
  "layer": [
    {
      "transform": [{"filter": "datum.k > 0"}],
      "mark": {"type": "line", "interpolate": "linear-closed", "strokeWidth": 0},
      "encoding": {
        "fill": {"field": "s", "type": "nominal",
          "scale": {"domain": ["Observation", "GroundTruth", "S-Implicit", "S-GAN", "S-STGCNN", "Trajectron++", "ExpertTraj"],
                    "range": ["#1f77b4", "#ff7f0e", "#008000", "#bfbf00", "#0000ff", "#000000", "#ff0000"]},
          "legend": {
            "title": null, "orient": "none", "legendX": 159, "legendY": -42, "direction": "horizontal", "columns": 7,
            "symbolType": "square", "symbolSize": 225, "symbolStrokeWidth": 0, "symbolOffset": 7, "labelOffset": 24, "symbolOpacity": 1,
            "labelFont": "DejaVu Sans", "labelFontSize": 15, "labelColor": "#000000", "labelLimit": 0,
            "columnPadding": 24, "padding": 6, "strokeColor": "#cccccc", "fillColor": "#ffffff", "cornerRadius": 3,
            "encoding": {"symbols": {
              "opacity": {"value": 1},
              "fillOpacity": {"value": 1},
              "strokeWidth": {"value": 0},
              "fill": {
                "condition": [
                  {"test": "datum.value === 'Observation'", "value": "#1f77b4"},
                  {"test": "datum.value === 'GroundTruth'", "value": "#ff7f0e"},
                  {"test": "datum.value === 'S-Implicit'", "value": "#008000"},
                  {"test": "datum.value === 'S-GAN'", "value": "#bfbf00"},
                  {"test": "datum.value === 'S-STGCNN'", "value": "#0000ff"},
                  {"test": "datum.value === 'Trajectron++'", "value": "#000000"}
                ],
                "value": "#ff0000"
              },
              "shape": {
                "condition": [
                  {"test": "datum.value === 'Observation'", "value": "M-2.067,-0.1H-1.333V0.1H-2.067Z M-1,-0.1H-0.5V0.1H-1Z M0.5,-0.1H1V0.1H0.5Z M1.333,-0.1H2.067V0.1H1.333Z M-0.45,0A0.45,0.45 0 1,1 0.45,0A0.45,0.45 0 1,1 -0.45,0Z M0,-1.233h0.002v0.002h-0.002Z M0,1.231h0.002v0.002h-0.002Z"},
                  {"test": "datum.value === 'GroundTruth'", "value": "M-2.067,-0.1H-1.333V0.1H-2.067Z M-1,-0.1H-0.5V0.1H-1Z M0.5,-0.1H1V0.1H0.5Z M1.333,-0.1H2.067V0.1H1.333Z M-0.393,-0.507L0.507,0.393L0.393,0.507L-0.507,-0.393Z M-0.393,0.507L-0.507,0.393L0.393,-0.507L0.507,-0.393Z M0,-1.233h0.002v0.002h-0.002Z M0,1.231h0.002v0.002h-0.002Z"}
                ],
                "value": "M-2.067,-0.733H2.067V0.733H-2.067Z M0,-1.233h0.002v0.002h-0.002Z M0,1.231h0.002v0.002h-0.002Z"
              }
            }}
          }
        },
        "fillOpacity": {"field": "s", "type": "nominal", "scale": {"domain": ["S-Implicit", "S-GAN", "S-STGCNN", "Trajectron++", "ExpertTraj"], "range": [0.2, 0.15, 0.2, 0.16, 0.2]}, "legend": null},
        "detail": {"field": "k", "type": "nominal"},
        "order": {"value": null}
      }
    },
    {
      "transform": [{"filter": "datum.s === 'Observation'"}],
      "mark": {"type": "line", "stroke": "#1f77b4", "strokeWidth": 1.5, "strokeDash": [5.55, 2.4]},
      "encoding": {"order": {"value": null}}
    },
    {
      "transform": [{"filter": "datum.s === 'Observation'"}],
      "mark": {"type": "point", "shape": "circle", "filled": true, "fill": "#1f77b4", "size": 49, "opacity": 1, "strokeWidth": 0},
      "encoding": {}
    },
    {
      "transform": [{"filter": "datum.s === 'GroundTruth'"}],
      "mark": {"type": "line", "stroke": "#ff7f0e", "strokeWidth": 1.5, "strokeDash": [5.55, 2.4]},
      "encoding": {"order": {"value": null}}
    },
    {
      "transform": [{"filter": "datum.s === 'GroundTruth'"}],
      "mark": {"type": "point", "shape": "M-1,-1L1,1M-1,1L1,-1", "filled": false, "stroke": "#ff7f0e", "size": 49, "opacity": 1, "strokeWidth": 1.2},
      "encoding": {}
    }
  ]
},
"config": {
  "font": "DejaVu Sans",
  "view": {"stroke": "#000000", "strokeWidth": 1},
  "axis": {"grid": false, "domain": false, "tickColor": "#000000", "tickSize": 4, "tickWidth": 1, "labelFont": "DejaVu Sans", "labelFontSize": 14, "labelColor": "#000000", "labelFlush": false, "labelOverlap": false}
}
}
